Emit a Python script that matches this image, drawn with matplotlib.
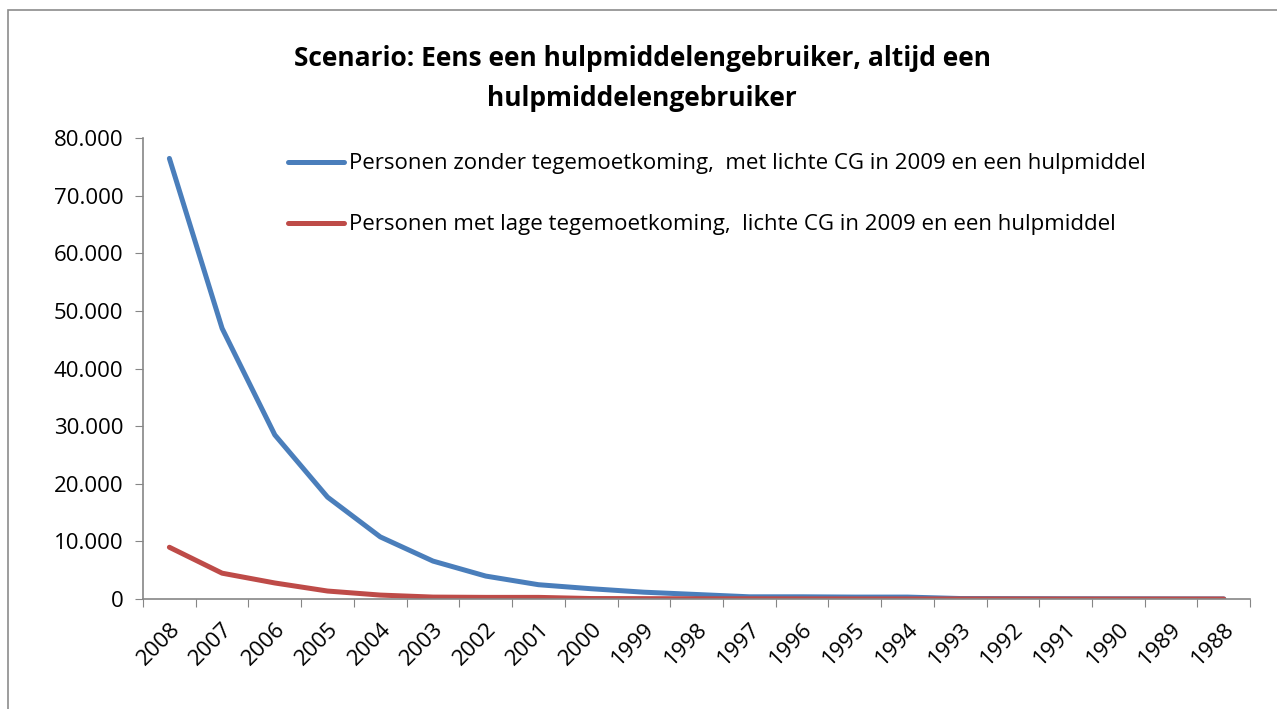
"""Line chart: scenario hulpmiddelengebruikers per jaar"""

import numpy as np
from matplotlib import pyplot as plt
from matplotlib.patches import Rectangle
from matplotlib.ticker import FuncFormatter, FixedLocator

years = ['2008', '2007', '2006', '2005', '2004', '2003', '2002', '2001', '2000', '1999', '1998',
         '1997', '1996', '1995', '1994', '1993', '1992', '1991', '1990', '1989', '1988']
zonder = [76500, 47000, 28500, 17700, 10800, 6600, 4000, 2500, 1800, 1200, 800,
          400, 400, 350, 350, 100, 80, 60, 50, 40, 30]
lage = [9000, 4500, 2800, 1400, 700, 350, 300, 300, 100, 80, 60,
        50, 40, 30, 30, 20, 20, 10, 10, 10, 10]
label_zonder = 'Personen zonder tegemoetkoming,  met lichte CG in 2009 en een hulpmiddel'
label_lage = 'Personen met lage tegemoetkoming,  lichte CG in 2009 en een hulpmiddel'
title = 'Scenario: Eens een hulpmiddelengebruiker, altijd een\nhulpmiddelengebruiker'

plt.rcParams['font.family'] = ['Open Sans', 'DejaVu Sans']

fig = plt.figure(figsize=(12.77, 7.09), dpi=100)
ax = fig.add_axes([0.112, 0.155, 0.867, 0.650])

# outer chart frame
fig.patches.append(Rectangle((0.006, -0.05), 1.1, 1.036, transform=fig.transFigure,
                             fill=False, edgecolor='#8c8c8c', linewidth=1.2))

xpos = np.arange(len(years)) + 0.5
ax.plot(xpos, zonder, color='#4A7EBB', linewidth=3.6, label=label_zonder,
        solid_capstyle='round', solid_joinstyle='round')
ax.plot(xpos, lage, color='#BE4B48', linewidth=3.6, label=label_lage,
        solid_capstyle='round', solid_joinstyle='round')

ax.set_xlim(0, len(years))
ax.set_ylim(0, 80000)
ax.set_yticks(np.arange(0, 80001, 10000))
ax.yaxis.set_major_formatter(FuncFormatter(lambda v, p: '{:,.0f}'.format(v).replace(',', '.')))
ax.xaxis.set_major_locator(FixedLocator(np.arange(len(years) + 1)))
ax.set_xticklabels([])
ax.xaxis.set_minor_locator(FixedLocator(xpos))
ax.set_xticklabels(years, minor=True, rotation=45, ha='right', va='top',
                   rotation_mode='anchor')

for side in ['top', 'right']:
    ax.spines[side].set_visible(False)
for side in ['left', 'bottom']:
    ax.spines[side].set_color('#868686')
    ax.spines[side].set_linewidth(1.2)
ax.tick_params(axis='y', which='major', length=6, color='#868686', labelsize=16, pad=8)
ax.tick_params(axis='x', which='major', length=6, color='#868686')
ax.tick_params(axis='x', which='minor', length=0, labelsize=16, pad=14)

fig.text(0.503, 0.889, title, ha='center', va='center', fontsize=19, fontweight='bold',
         linespacing=1.6)

ax.legend(loc='upper left', bbox_to_anchor=(0.210, 0.812), bbox_transform=fig.transFigure,
          frameon=False, fontsize=16, handlelength=2.5, handletextpad=0.25, labelspacing=1.8)

fig.savefig('out.png', dpi=100)
